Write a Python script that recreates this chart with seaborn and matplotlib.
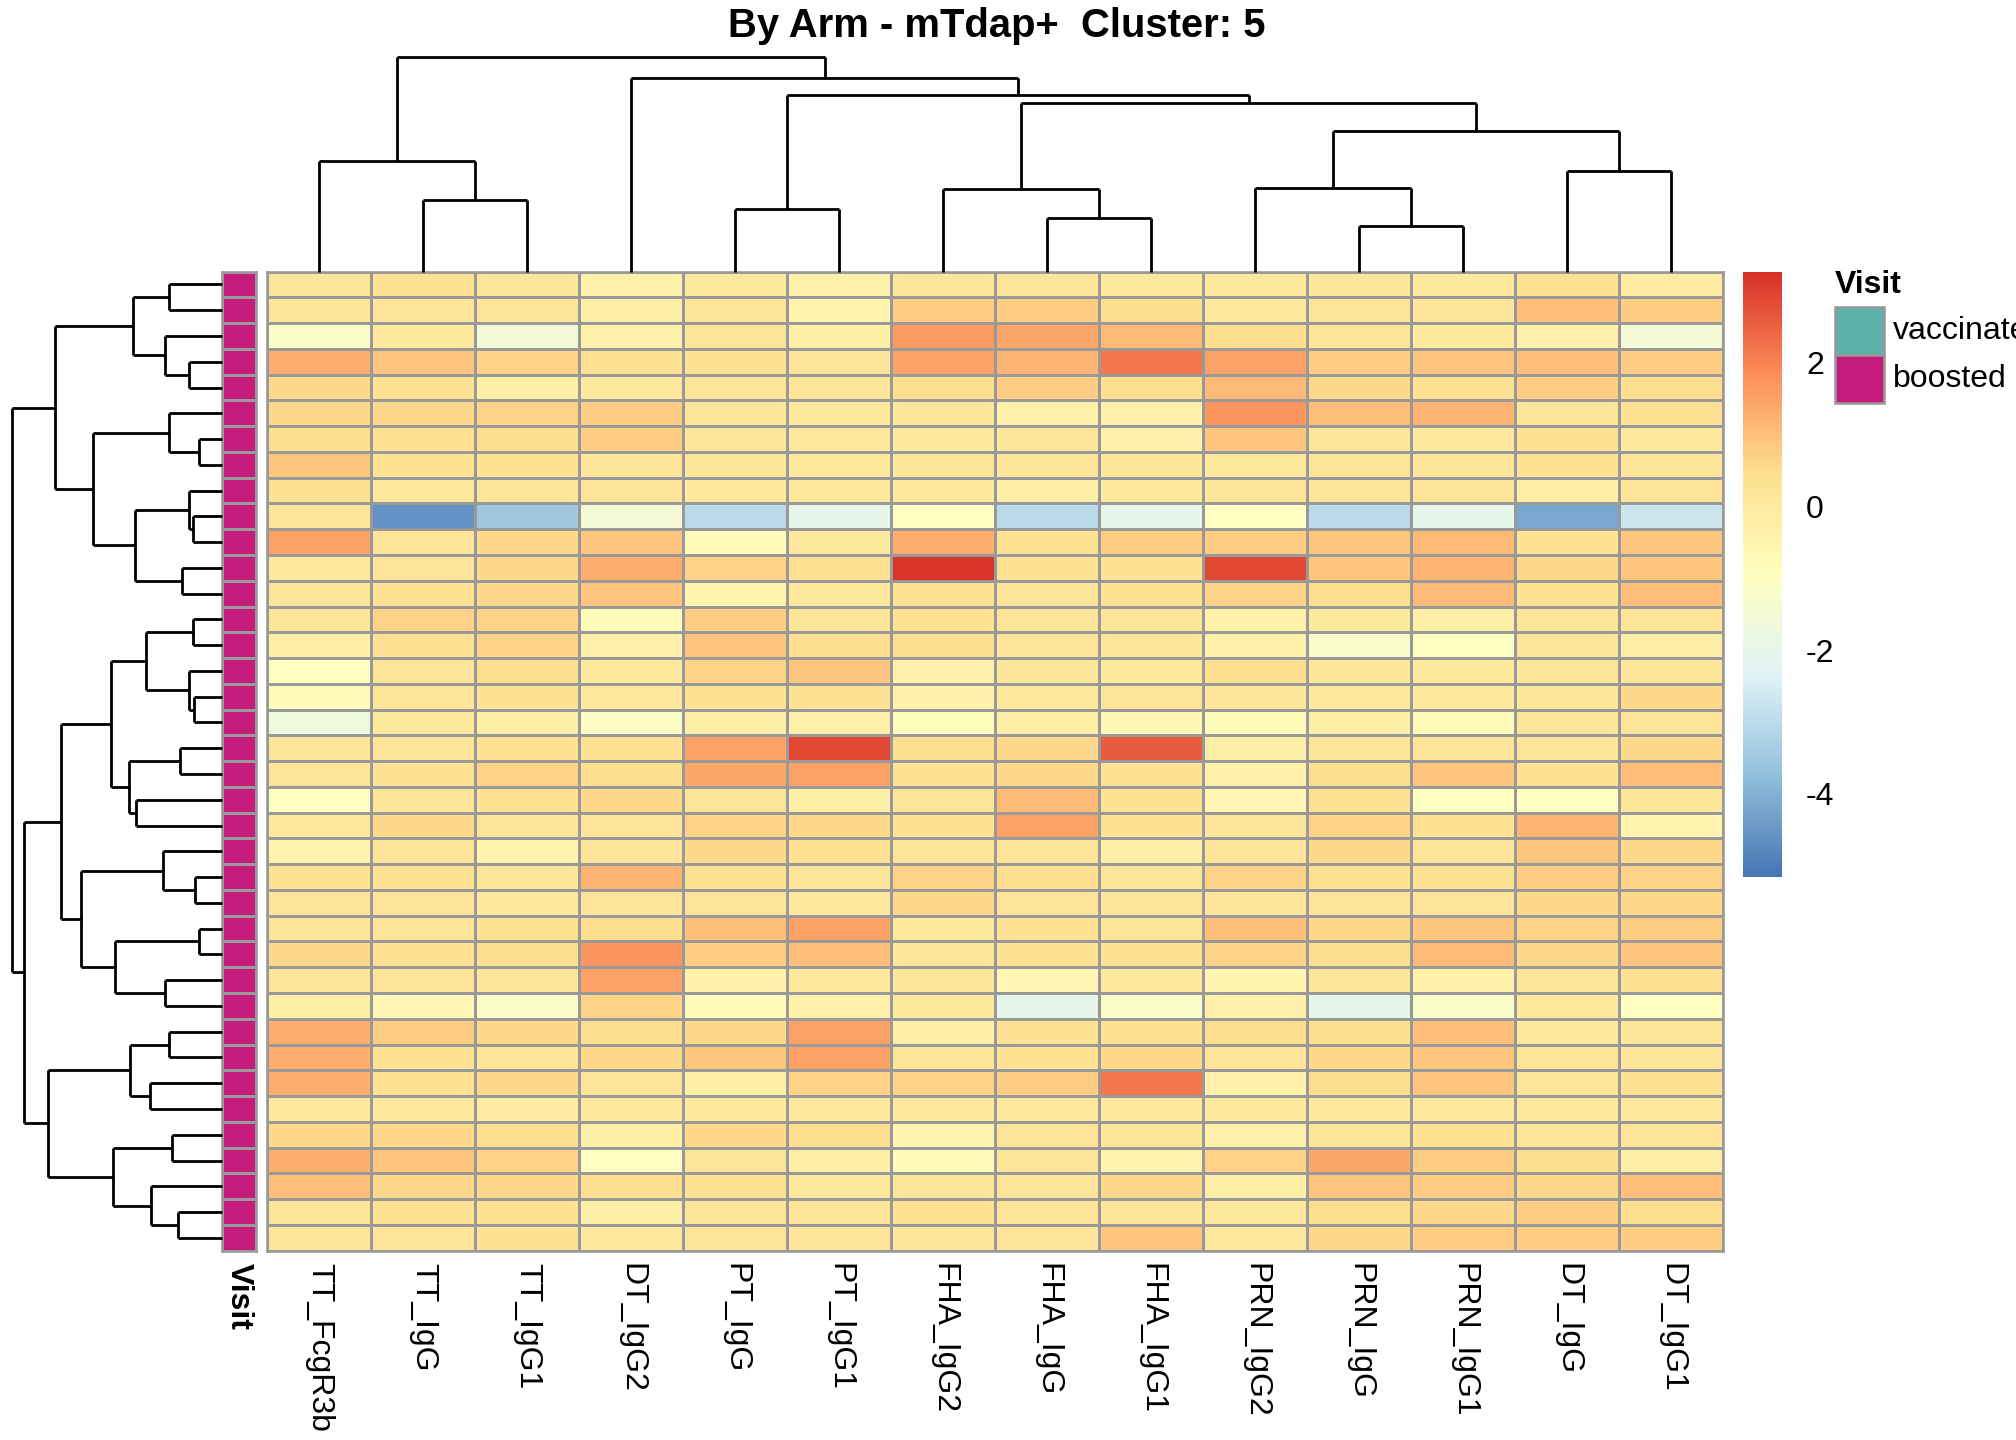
import numpy as np
import pandas as pd
import seaborn as sns
import matplotlib
matplotlib.use("Agg")
import matplotlib.pyplot as plt
from matplotlib.colors import LinearSegmentedColormap, ListedColormap
from matplotlib.patches import Rectangle

# ---- data ----
features = ["TT_FcgR3b", "TT_IgG", "TT_IgG1", "DT_IgG2", "PT_IgG", "PT_IgG1",
            "FHA_IgG2", "FHA_IgG", "FHA_IgG1", "PRN_IgG2", "PRN_IgG", "PRN_IgG1",
            "DT_IgG", "DT_IgG1"]

values = [
    [0.2, 0.4, 0.2, -0.3, 0.1, -0.3, 0.3, 0.3, 0.1, 0.1, 0.2, 0.0, 0.4, -0.1],
    [0.2, 0.3, 0.3, -0.2, 0.3, -0.4, 0.8, 0.8, 0.5, 0.1, 0.3, 0.2, 1.0, 0.8],
    [-1.2, 0.1, -1.6, -0.3, 0.3, -0.2, 1.6, 1.4, 1.1, 0.5, 0.3, 0.0, -0.3, -1.5],
    [1.3, 0.9, 0.7, 0.4, 0.4, 0.2, 1.5, 1.2, 2.2, 1.5, 0.8, 0.9, 1.0, 0.8],
    [0.6, 0.4, -0.2, 0.0, 0.3, 0.2, 0.5, 0.8, 0.5, 1.1, 0.6, 0.4, 0.8, 0.5],
    [0.6, 0.6, 0.7, 0.8, 0.3, 0.1, 0.2, -0.3, -0.3, 1.7, 1.0, 1.2, 0.3, 0.4],
    [0.5, 0.4, 0.5, 0.8, 0.2, 0.1, 0.0, 0.2, -0.3, 0.9, 0.2, 0.1, 0.4, 0.1],
    [0.9, 0.4, 0.4, 0.2, 0.2, 0.1, 0.2, 0.2, 0.2, 0.1, 0.3, 0.2, 0.4, 0.2],
    [0.4, 0.1, 0.3, 0.3, 0.0, 0.1, 0.1, -0.2, 0.0, 0.2, 0.2, 0.2, -0.2, 0.3],
    [0.2, -4.6, -3.5, -1.5, -3.0, -2.0, -1.0, -3.0, -2.0, -1.0, -3.0, -2.0, -4.2, -2.7],
    [1.5, 0.3, 0.6, 0.9, -0.8, 0.0, 1.3, 0.4, 0.8, 0.8, 0.9, 1.1, 0.4, 0.9],
    [0.1, 0.3, 0.6, 1.3, 0.7, 0.4, 3.2, 0.4, 0.4, 2.9, 0.9, 1.2, 0.6, 0.9],
    [0.2, 0.4, 0.6, 0.9, -0.4, 0.1, 0.4, 0.3, 0.4, 0.7, 0.5, 1.1, 0.4, 1.0],
    [0.2, 0.7, 0.7, -0.8, 0.8, 0.2, 0.4, 0.3, 0.3, -0.3, 0.0, -0.2, 0.3, 0.3],
    [-0.2, 0.4, 0.7, -0.3, 0.9, 0.5, 0.5, 0.2, 0.2, -0.3, -1.2, -1.0, 0.2, -0.2],
    [-1.0, 0.3, 0.5, 0.0, 0.7, 0.9, -0.3, 0.2, 0.1, 0.5, 0.2, 0.1, 0.2, 0.2],
    [-0.8, 0.3, 0.4, 0.1, 0.4, 0.4, -0.3, 0.1, 0.3, 0.2, 0.1, 0.0, 0.2, 0.6],
    [-1.7, 0.1, -0.2, -1.1, -0.2, -0.3, -0.9, -0.2, -0.6, -0.8, -0.2, -0.7, 0.3, 0.3],
    [0.2, 0.3, 0.4, 0.4, 1.5, 2.9, 0.5, 0.6, 2.6, -0.2, 0.3, 0.3, 0.3, 0.6],
    [0.3, 0.4, 0.7, 0.5, 1.4, 1.5, 0.4, 0.6, 0.4, -0.3, 0.5, 0.9, 0.4, 1.0],
    [-1.0, 0.2, 0.4, 0.6, 0.3, -0.2, 0.3, 1.1, 0.4, -0.6, 0.4, -1.0, -1.0, 0.2],
    [0.1, 0.6, 0.2, 0.3, 0.7, 0.6, 0.4, 1.5, 0.4, 0.2, 0.7, 0.4, 1.2, -0.5],
    [-0.4, 0.3, -0.4, 0.3, 0.6, 0.4, 0.3, 0.3, -0.2, 0.3, 0.6, 0.3, 0.9, 0.6],
    [0.4, 0.4, 0.2, 1.2, 0.4, 0.2, 0.7, 0.5, 0.3, 0.7, 0.4, 0.4, 0.8, 0.7],
    [0.3, 0.3, 0.1, 0.3, 0.3, 0.1, 0.6, 0.3, 0.2, 0.2, 0.3, 0.3, 0.6, 0.6],
    [0.3, 0.3, 0.4, 0.5, 1.0, 1.5, 0.0, 0.4, 0.3, 1.0, 0.6, 0.9, 0.7, 0.8],
    [0.6, 0.4, 0.5, 1.7, 0.8, 1.0, 0.2, 0.4, 0.4, 0.7, 0.5, 1.1, 0.6, 0.9],
    [0.3, 0.3, 0.2, 1.5, -0.3, 0.1, 0.2, -0.6, 0.0, -0.5, 0.2, -0.3, 0.3, 0.4],
    [-0.2, -0.6, -1.2, 0.7, -0.8, -0.3, 0.0, -2.0, -1.2, -0.3, -2.0, -1.2, 0.1, -1.0],
    [1.3, 0.8, 0.6, 0.5, 0.6, 1.5, -0.2, 0.4, 0.4, 0.5, 0.5, 1.0, 0.0, 0.2],
    [1.3, 0.4, 0.3, 0.6, 0.9, 1.5, 0.3, 0.4, 0.6, 0.3, 0.6, 0.9, 0.3, 0.2],
    [1.3, 0.4, 0.6, 0.3, -0.2, 0.7, 0.7, 0.8, 2.2, -0.3, 0.5, 0.9, 0.3, 0.4],
    [0.1, 0.1, -0.1, 0.1, 0.0, 0.1, 0.1, 0.1, 0.0, 0.0, 0.0, 0.1, 0.1, 0.1],
    [0.6, 0.6, 0.5, -0.2, 0.6, 0.5, -0.5, 0.3, 0.2, -0.3, 0.3, 0.4, 0.3, 0.3],
    [1.3, 0.9, 0.7, -1.0, 0.3, -0.2, -0.8, 0.3, -0.4, 0.7, 1.4, 0.8, 0.5, -0.2],
    [1.0, 0.6, 0.6, 0.5, 0.4, 0.1, 0.3, 0.3, 0.6, -0.2, 0.9, 0.8, 0.6, 1.0],
    [0.3, 0.4, 0.4, -0.2, 0.3, 0.2, 0.4, 0.3, 0.2, 0.1, 0.5, 0.6, 0.8, 0.5],
    [0.2, 0.3, 0.4, 0.1, 0.3, 0.2, 0.2, 0.3, 0.9, 0.1, 0.6, 0.8, 0.8, 0.8],
]

visit = ["boosted"] * len(values)
visit_levels = ["vaccinated", "boosted"]
visit_colors = ["#5BB2A8", "#C51B7D"]

# dendrogram trees: (left, right, height); ints are leaf positions
row_tree = (
    (((0, 1, 53), (2, (3, 4, 33), 57), 89),
     ((5, (6, 7, 23), 53), ((8, (9, 10, 29), 33), (11, 12, 40), 87), 130), 168),
    (((((13, 14, 29), (15, (16, 17, 28), 33), 76), ((18, 19, 42), (20, 21, 86), 93), 112),
      ((22, (23, 24, 27), 59), ((25, 26, 23), (27, 28, 57), 108), 142), 162),
     (((29, 30, 53), (31, 32, 72), 92), ((33, 34, 50), (35, (36, 37, 44), 71), 110), 175), 199),
    211)
col_tree = ((0, (1, 2, 55), 85),
            (3, ((4, 5, 48), ((6, (7, 8, 41), 63),
                              ((9, (10, 11, 35), 64), (12, 13, 77), 108), 129), 135), 148),
            164)

# ---- helpers ----
def dendro_segments(node):
    """returns (position, height, segments)"""
    if isinstance(node, int):
        return node + 0.5, 0, []
    l, r, h = node
    pl, hl, sl = dendro_segments(l)
    pr, hr, sr = dendro_segments(r)
    segs = sl + sr + [((pl, hl), (pl, h)), ((pr, hr), (pr, h)), ((pl, h), (pr, h))]
    return (pl + pr) / 2, h, segs

W, H = 1568, 1103
def box(x0, y0, x1, y1):
    return [x0 / W, 1 - y1 / H, (x1 - x0) / W, (y1 - y0) / H]

plt.rcParams["font.family"] = ["Liberation Sans", "DejaVu Sans"]
plt.rcParams["axes.unicode_minus"] = False
fig = plt.figure(figsize=(14, 10), dpi=144)

cmap = LinearSegmentedColormap.from_list(
    "rdylbu", ["#4575B4", "#91BFDB", "#E0F3F8", "#FFFFBF", "#FEE090", "#FC8D59", "#D73027"])

df = pd.DataFrame(values, columns=features)
ax = fig.add_axes(box(208, 208, 1340, 958))
cax = fig.add_axes(box(1356, 208, 1386, 672))
sns.heatmap(df, ax=ax, cmap=cmap, vmin=-5.16, vmax=3.27, linewidths=1.3,
            linecolor="#999999", cbar_ax=cax, cbar_kws={"ticks": [-4, -2, 0, 2]},
            xticklabels=True, yticklabels=False)
ax.set_xticks(np.arange(len(features)) + 0.5)
ax.set_xticklabels(features, rotation=270, fontsize=16, ha="center", va="top")
ax.tick_params(axis="x", length=0, pad=6)
ax.tick_params(axis="y", length=0)
for s in ax.spines.values():
    s.set_visible(True); s.set_color("#999999"); s.set_linewidth(1.3)
cax.tick_params(length=0, labelsize=16, pad=12)
ax.collections[0].colorbar.outline.set_visible(False)

# annotation column
aax = fig.add_axes(box(173, 208, 199, 958))
codes = np.array([[visit_levels.index(v)] for v in visit])
sns.heatmap(codes, ax=aax, cmap=ListedColormap(visit_colors), vmin=0, vmax=1,
            cbar=False, linewidths=1.3, linecolor="#999999",
            xticklabels=["Visit"], yticklabels=False)
aax.set_xticklabels(["Visit"], rotation=270, fontsize=16, fontweight="bold", va="top")
aax.tick_params(length=0, pad=6)
for s in aax.spines.values():
    s.set_visible(True); s.set_color("#999999"); s.set_linewidth(1.3)

# row dendrogram
rax = fig.add_axes(box(9, 208, 173, 958))
_, _, segs = dendro_segments(row_tree)
for (y0, x0), (y1, x1) in segs:
    rax.plot([x0, x1], [y0, y1], color="black", lw=1.4, solid_capstyle="butt", clip_on=False)
rax.set_xlim(211, 0)
rax.set_ylim(len(values), 0)
rax.axis("off")

# column dendrogram
dax = fig.add_axes(box(208, 44, 1340, 208))
_, _, segs = dendro_segments(col_tree)
for (x0, y0), (x1, y1) in segs:
    dax.plot([x0, x1], [y0, y1], color="black", lw=1.4, solid_capstyle="butt", clip_on=False)
dax.set_xlim(0, len(features))
dax.set_ylim(0, 164)
dax.axis("off")

# legend
fig.text(1427 / W, 1 - 218 / H, "Visit", fontsize=16, fontweight="bold", va="center")
for i, (lab, col) in enumerate(zip(visit_levels, visit_colors)):
    y0 = 235 + i * 37
    fig.patches.append(Rectangle((1427 / W, 1 - (y0 + 37) / H), 38 / W, 37 / H,
                                 transform=fig.transFigure, facecolor=col,
                                 edgecolor="#999999", lw=1.3))
    fig.text(1472 / W, 1 - (y0 + 18.5) / H, lab, fontsize=16, va="center")

fig.text(775 / W, 1 - 20 / H, "By Arm - mTdap+  Cluster: 5", fontsize=20,
         fontweight="bold", ha="center", va="center")

fig.savefig("out.png", dpi=144)
